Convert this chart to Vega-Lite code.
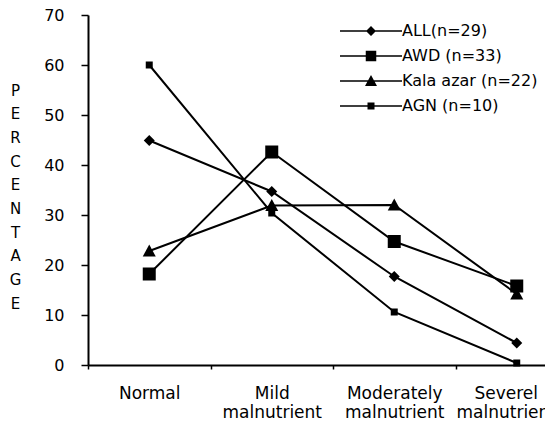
{
  "$schema": "https://vega.github.io/schema/vega-lite/v6.json",
  "width": 457,
  "height": 350,
  "autosize": {"type": "none"},
  "padding": {"left": 88, "top": 15, "right": 0, "bottom": 60},
  "background": "white",
  "config": {"view": {"stroke": null}, "font": "DejaVu Sans"},
  "data": {
    "values": [
      {"cat": "Normal", "series": "ALL(n=29)", "value": 44.9},
      {"cat": "Mild malnutrient", "series": "ALL(n=29)", "value": 34.7},
      {"cat": "Moderately malnutrient", "series": "ALL(n=29)", "value": 17.7},
      {"cat": "Severel malnutrient", "series": "ALL(n=29)", "value": 4.4},
      {"cat": "Normal", "series": "AWD (n=33)", "value": 18.2},
      {"cat": "Mild malnutrient", "series": "AWD (n=33)", "value": 42.6},
      {"cat": "Moderately malnutrient", "series": "AWD (n=33)", "value": 24.7},
      {"cat": "Severel malnutrient", "series": "AWD (n=33)", "value": 15.8},
      {"cat": "Normal", "series": "Kala azar (n=22)", "value": 22.8},
      {"cat": "Mild malnutrient", "series": "Kala azar (n=22)", "value": 31.9},
      {"cat": "Moderately malnutrient", "series": "Kala azar (n=22)", "value": 32.0},
      {"cat": "Severel malnutrient", "series": "Kala azar (n=22)", "value": 14.2},
      {"cat": "Normal", "series": "AGN (n=10)", "value": 60.0},
      {"cat": "Mild malnutrient", "series": "AGN (n=10)", "value": 30.4},
      {"cat": "Moderately malnutrient", "series": "AGN (n=10)", "value": 10.6},
      {"cat": "Severel malnutrient", "series": "AGN (n=10)", "value": 0.4}
    ]
  },
  "encoding": {
    "x": {
      "field": "cat",
      "type": "nominal",
      "sort": ["Normal", "Mild malnutrient", "Moderately malnutrient", "Severel malnutrient"],
      "scale": {"type": "band", "range": [0, 490], "paddingInner": 0, "paddingOuter": 0},
      "axis": {
        "title": null,
        "labelAngle": 0,
        "tickBand": "extent",
        "labelExpr": "split(datum.label, ' ')",
        "labelFont": "DejaVu Sans",
        "labelFontSize": 17,
        "labelLineHeight": 19,
        "labelColor": "black",
        "labelPadding": 16,
        "labelBaseline": "top",
        "labelOffset": {"condition": {"test": "datum.value === 'Severel malnutrient'", "value": -11}, "value": 0},
        "domainColor": "black",
        "domainWidth": 2,
        "tickColor": "black",
        "tickSize": 4,
        "tickWidth": 1.5
      }
    },
    "y": {
      "field": "value",
      "type": "quantitative",
      "scale": {"domain": [0, 70]},
      "axis": {
        "values": [0, 10, 20, 30, 40, 50, 60, 70],
        "grid": false,
        "labelFont": "DejaVu Sans",
        "labelFontSize": 16,
        "labelColor": "black",
        "labelPadding": 17,
        "domainColor": "black",
        "domainWidth": 2,
        "tickColor": "black",
        "tickSize": 7,
        "tickWidth": 1.5,
        "title": ["P", "E", "R", "C", "E", "N", "T", "A", "G", "E"],
        "titleAngle": 0,
        "titleFont": "DejaVu Sans",
        "titleFontSize": 15,
        "titleFontWeight": "normal",
        "titleColor": "black",
        "titleLineHeight": 23.7,
        "titleAlign": "center",
        "titleBaseline": "top",
        "titleX": -73,
        "titleY": 68
      }
    }
  },
  "layer": [
    {
      "mark": {"type": "line", "color": "black", "strokeWidth": 2},
      "encoding": {"detail": {"field": "series"}}
    },
    {
      "mark": {"type": "point", "filled": true, "color": "black", "opacity": 1, "size": 100},
      "encoding": {
        "shape": {
          "field": "series",
          "scale": {
            "domain": ["ALL(n=29)", "AWD (n=33)", "Kala azar (n=22)", "AGN (n=10)"],
            "range": [
              "M0,-1.1L1.1,0L0,1.1L-1.1,0Z",
              "M-1.3,-1.3H1.3V1.3H-1.3Z",
              "M0,-1.3L1.3,1.1H-1.3Z",
              "M-0.7,-0.7H0.7V0.7H-0.7Z"
            ]
          },
          "legend": null
        }
      }
    },
    {
      "mark": {"type": "point", "filled": true, "color": "black", "opacity": 0, "size": 100},
      "encoding": {
        "shape": {
          "field": "series",
          "scale": {
            "domain": ["ALL(n=29)", "AWD (n=33)", "Kala azar (n=22)", "AGN (n=10)"],
            "range": [
              "M-6.2,-0.17H6.2V0.17H-6.2Z M0,-1.0L1.0,0L0,1.0L-1.0,0Z",
              "M-6.2,-0.17H6.2V0.17H-6.2Z M-1.05,-1.05H1.05V1.05H-1.05Z",
              "M-6.2,-0.17H6.2V0.17H-6.2Z M0,-1.2L1.2,1.0H-1.2Z",
              "M-6.2,-0.17H6.2V0.17H-6.2Z M-0.7,-0.7H0.7V0.7H-0.7Z"
            ]
          },
          "legend": {
            "orient": "none",
            "legendX": 275,
            "legendY": 8,
            "title": null,
            "padding": 0,
            "labelFont": "DejaVu Sans",
            "labelFontSize": 16,
            "labelColor": "black",
            "labelOffset": 23,
            "rowPadding": 9,
            "symbolSize": 100,
            "symbolOpacity": 1,
            "symbolFillColor": "black",
            "symbolStrokeWidth": 0
          }
        }
      }
    }
  ],
  "resolve": {"scale": {"shape": "independent"}}
}
